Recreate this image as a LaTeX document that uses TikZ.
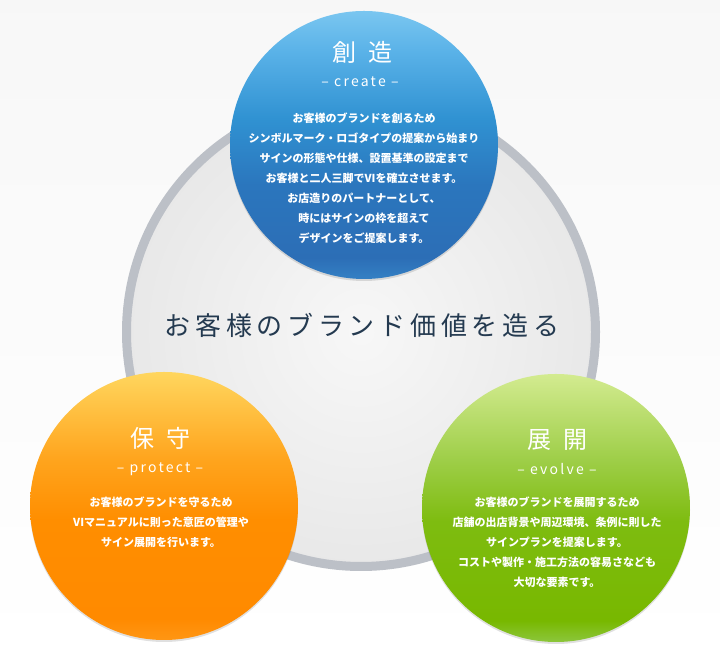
\documentclass[tikz,border=0pt]{standalone}
\usepackage{fontspec}
\setmainfont{Noto Sans CJK JP}
\newfontfamily\cjk{Noto Sans CJK JP}
\usetikzlibrary{shadows}
\definecolor{ringgray}{HTML}{BCC0C7}
\definecolor{navytext}{HTML}{243A50}
\pgfdeclareverticalshading{blueball}{100bp}{
  color(0bp)=(rgb,255:red,52;green,128;blue,196);
  color(25bp)=(rgb,255:red,52;green,128;blue,196);
  color(29bp)=(rgb,255:red,44;green,110;blue,182);
  color(42.5bp)=(rgb,255:red,43;green,118;blue,189);
  color(55bp)=(rgb,255:red,48;green,146;blue,210);
  color(67.5bp)=(rgb,255:red,90;green,178;blue,232);
  color(75bp)=(rgb,255:red,122;green,198;blue,240);
  color(100bp)=(rgb,255:red,122;green,198;blue,240)}
\pgfdeclareverticalshading{orangeball}{100bp}{
  color(0bp)=(rgb,255:red,255;green,150;blue,20);
  color(25bp)=(rgb,255:red,255;green,150;blue,20);
  color(29bp)=(rgb,255:red,255;green,138;blue,0);
  color(47.5bp)=(rgb,255:red,255;green,142;blue,0);
  color(59bp)=(rgb,255:red,255;green,165;blue,30);
  color(75bp)=(rgb,255:red,255;green,214;blue,94);
  color(100bp)=(rgb,255:red,255;green,214;blue,94)}
\pgfdeclareverticalshading{greenball}{100bp}{
  color(0bp)=(rgb,255:red,140;green,198;blue,60);
  color(25bp)=(rgb,255:red,140;green,198;blue,60);
  color(29bp)=(rgb,255:red,120;green,184;blue,0);
  color(47.5bp)=(rgb,255:red,126;green,188;blue,16);
  color(59bp)=(rgb,255:red,158;green,206;blue,72);
  color(75bp)=(rgb,255:red,211;green,235;blue,144);
  color(100bp)=(rgb,255:red,211;green,235;blue,144)}
\tikzset{
  ball/.style={circle, minimum size=268pt, inner sep=0pt,
    drop shadow={shadow xshift=0pt, shadow yshift=-2pt, opacity=0.12, fill=black}},
  titletext/.style={text=white, font=\cjk\fontsize{24}{26}\selectfont},
  subtext/.style={text=white, font=\cjk\addfontfeature{LetterSpace=16}\fontsize{14}{16}\selectfont},
  bodytext/.style={text=white, align=center, font=\cjk\bfseries\fontsize{11}{20}\selectfont},
}
\begin{document}
\begin{tikzpicture}[x=1pt,y=1pt]
\useasboundingbox (0,0) rectangle (720,655);
\shade[top color=white!97!black, middle color=white!89!black, bottom color=white] (0,0) rectangle (720,655);
% big ring
\node[circle, minimum size=469pt, inner sep=0pt, draw=ringgray, line width=9pt,
      inner color=white!97!black, outer color=white!91!black] (ring) at (361,323) {};
\node[text=navytext, font=\cjk\addfontfeature{LetterSpace=18}\fontsize{26}{28}\selectfont] (center) at (362,330) {お客様のブランド価値を造る};
% blue
\node[ball, shading=blueball] (create) at (364,510) {};
\node[titletext] (createT) at (362,603) {創\hspace{12pt}造};
\node[subtext] (createS) at (360,573) {– create –};
\node[bodytext, anchor=north] (createB) at (364,546) {お客様のブランドを創るため\\シンボルマーク・ロゴタイプの提案から始まり\\サインの形態や仕様、設置基準の設定まで\\お客様と二人三脚でVIを確立させます。\\お店造りのパートナーとして、\\時にはサインの枠を超えて\\デザインをご提案します。};
% orange
\node[ball, shading=orangeball] (protect) at (164,149) {};
\node[titletext] (protectT) at (160,217) {保\hspace{12pt}守};
\node[subtext] (protectS) at (160,186) {– protect –};
\node[bodytext, anchor=north] (protectB) at (161,162) {お客様のブランドを守るため\\VIマニュアルに則った意匠の管理や\\サイン展開を行います。};
% green
\node[ball, shading=greenball] (evolve) at (556,147) {};
\node[titletext] (evolveT) at (557,215) {展\hspace{12pt}開};
\node[subtext] (evolveS) at (557,186) {– evolve –};
\node[bodytext, anchor=north] (evolveB) at (557,162) {お客様のブランドを展開するため\\店舗の出店背景や周辺環境、条例に則した\\サインプランを提案します。\\コストや製作・施工方法の容易さなども\\大切な要素です。};
\end{tikzpicture}
\end{document}
